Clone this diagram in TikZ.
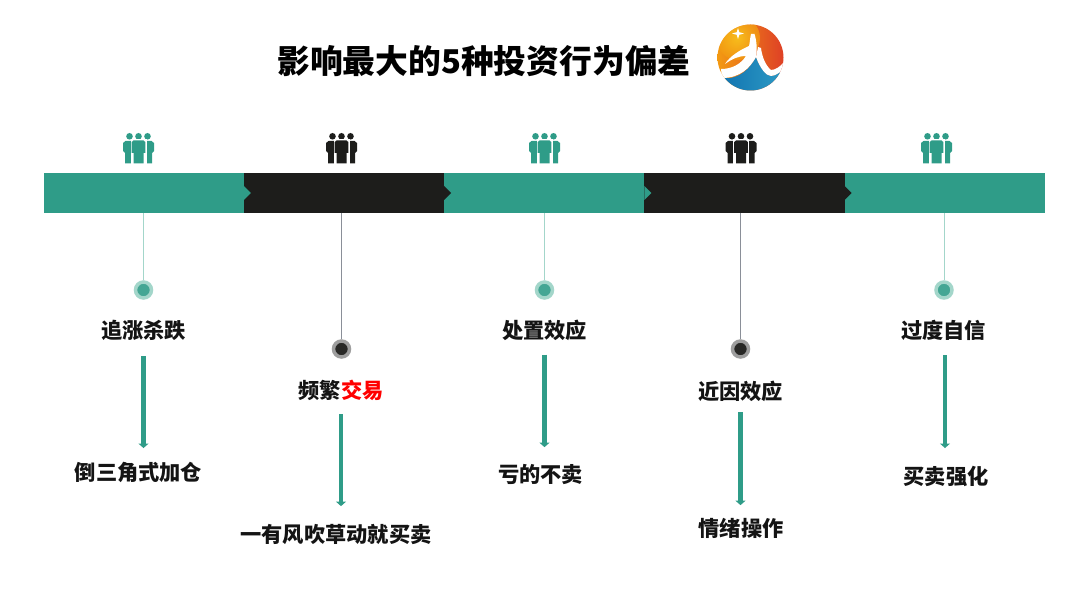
\documentclass[tikz,border=0pt]{standalone}
\usepackage{fontspec}
\setmainfont{Noto Sans CJK SC}
\usetikzlibrary{arrows.meta,calc,positioning}
\definecolor{barteal}{HTML}{2F9C88}
\definecolor{barblack}{HTML}{1D1D1B}
\definecolor{stemteal}{HTML}{A3D6CA}
\definecolor{stemblack}{HTML}{8A8F98}
\definecolor{hotred}{HTML}{FF0000}
\definecolor{logoblue}{HTML}{0F70AE}
\definecolor{logosky}{HTML}{2E9CC6}
\definecolor{logored}{HTML}{DE3F26}
\definecolor{logoamber}{HTML}{F39A12}
\definecolor{logosun}{HTML}{FBD21E}
\tikzset{
  barseg/.style={minimum width=200.3*0.025cm, minimum height=40*0.025cm, inner sep=0pt, outer sep=0pt},
  headline/.style={font=\fontsize{23.3}{26}\selectfont\bfseries, text=black, inner sep=0pt},
  tag/.style={font=\fontsize{15.1}{17}\selectfont\bfseries, text=black!92, inner sep=1pt},
  dotteal/.style={circle, fill=barteal!90, draw=stemteal, line width=3.5*0.025cm, minimum size=16*0.025cm, inner sep=0pt},
  dotblack/.style={circle, fill=barblack!95, draw=black!38, line width=3.5*0.025cm, minimum size=16*0.025cm, inner sep=0pt},
  stem/.style={line width=0.7pt},
  flow/.style={line width=3.4pt, barteal, -{Triangle[length=3.2pt,width=7pt]}},
  people/.pic={
    \fill (-9,-12.7) circle (3.3);
    \fill (0,-12.7) circle (3.3);
    \fill (9,-12.7) circle (3.3);
    % side figures
    \fill (-15.5,-6) -- (-13,-8) -- (-6.5,-8) -- (-6.5,14.5) -- (-13.5,14.5) -- (-13.5,4) -- (-15.5,2) -- cycle;
    \fill (15.5,-6) -- (13,-8) -- (6.5,-8) -- (6.5,14.5) -- (13.5,14.5) -- (13.5,4) -- (15.5,2) -- cycle;
    % middle figure
    \fill[white] (-8,-9.5) rectangle (8,15);
    \fill (-5,-8.5) -- (5,-8.5) -- (6.8,-7) -- (6.8,4) -- (5,4) -- (5,14.5) -- (-5,14.5) -- (-5,4) -- (-6.8,4) -- (-6.8,-7) -- cycle;
  }
}

\begin{document}
\begin{tikzpicture}[x=0.025cm,y=-0.025cm]
\useasboundingbox (0,0) rectangle (1080,597);

% --- Title ---
\node[headline, anchor=center] (heading) at (484,61) {影响最大的5种投资行为偏差};

% --- Logo ---
\begin{scope}
  \clip (750.5,57.5) circle (33);
  \shade[left color=logoamber, right color=logored] (717,24) rectangle (784,91);
  \shade[inner color=logosun, outer color=logosun!0!logoamber, opacity=0.75] (738,38) circle (22);
  \shade[left color=logoblue, right color=logosky] (716,60) -- (722,78) .. controls (740,80) and (750,68) .. (756,57) .. controls (760,68) and (766,76) .. (771,76) .. controls (776,76) and (782,71) .. (786,66) -- (786,92) -- (716,92) -- cycle;
  \fill[white] (751,34) -- (754.5,34) .. controls (756.5,40) and (757.5,50) .. (756,57) .. controls (750,68) and (740,78) .. (722,78)
    -- (721,69) .. controls (732,69) and (741,64) .. (746,56) .. controls (738,56) and (732,59) .. (725,64)
    .. controls (730,56) and (740,50) .. (749,46) .. controls (750,42) and (750,38) .. (751,34) -- cycle;
  \fill[white] (758,47) -- (761,48) .. controls (762,56) and (765,65) .. (771,70) .. controls (775,70) and (780,67) .. (784,62)
    -- (786,66) .. controls (782,71) and (776,76) .. (771,76) .. controls (766,76) and (760,68) .. (756,57) -- cycle;
\end{scope}
\fill[white] (738,28) -- (739.3,32.2) -- (744,33.5) -- (739.3,34.8) -- (738,39) -- (736.7,34.8) -- (732,33.5) -- (736.7,32.2) -- cycle;

% --- Band ---
\node[barseg, fill=barteal, anchor=west] (segA) at (43.5,193) {};
\node[barseg, fill=barblack, right=0pt of segA] (segB) {};
\node[barseg, fill=barteal, right=0pt of segB] (segC) {};
\node[barseg, fill=barblack, right=0pt of segC] (segD) {};
\node[barseg, fill=barteal, right=0pt of segD] (segE) {};
\foreach \seg/\col in {segA/barteal,segB/barblack,segC/barteal,segD/barblack}
  \fill[\col] ($(\seg.east)+(0,-7)$) -- ($(\seg.east)+(7,0)$) -- ($(\seg.east)+(0,7)$) -- cycle;

% --- Icons ---
\pic[barteal] at (138.5,149) {people};
\pic[barblack] at (341.5,149) {people};
\pic[barteal] at (544.5,149) {people};
\pic[barblack] at (741,149) {people};
\pic[barteal] at (936.5,149) {people};

% --- Markers ---
\node[dotteal] (dotA) at (143.5,290) {};
\node[dotblack] (dotB) at (341.5,349) {};
\node[dotteal] (dotC) at (544.5,290) {};
\node[dotblack] (dotD) at (740.5,349) {};
\node[dotteal] (dotE) at (944,290) {};
\draw[stem, stemteal] (segA.south -| dotA) -- (dotA);
\draw[stem, stemblack] (segB.south -| dotB) -- (dotB);
\draw[stem, stemteal] (segC.south -| dotC) -- (dotC);
\draw[stem, stemblack] (segD.south -| dotD) -- (dotD);
\draw[stem, stemteal] (segE.south -| dotE) -- (dotE);

% --- Labels ---
\node[tag] (chase) at (143.5,330.5) {追涨杀跌};
\node[tag] (trade) at (341,390) {频繁\textcolor{hotred}{交易}};
\node[tag] (dispose) at (544.5,330.5) {处置效应};
\node[tag] (recent) at (740.5,391) {近因效应};
\node[tag] (confid) at (943.5,330.5) {过度自信};
\node[tag] (pyramid) at (138.5,472) {倒三角式加仓};
\node[tag] (windy) at (336,534) {一有风吹草动就买卖};
\node[tag] (nosell) at (540.5,474) {亏的不卖};
\node[tag] (mood) at (741,528) {情绪操作};
\node[tag] (reinf) at (946,476) {买卖强化};

% --- Arrows ---
\draw[flow, shorten <=14*0.025cm, shorten >=12*0.025cm] (chase.south) -- (chase.south |- pyramid.north);
\draw[flow, shorten <=12*0.025cm, shorten >=16*0.025cm] (trade.south) -- (trade.south |- windy.north);
\draw[flow, shorten <=12*0.025cm, shorten >=15*0.025cm] (dispose.south) -- (dispose.south |- nosell.north);
\draw[flow, shorten <=9*0.025cm, shorten >=11*0.025cm] (recent.south) -- (recent.south |- mood.north);
\draw[flow, shorten <=13*0.025cm, shorten >=16*0.025cm] ([xshift=1.5*0.025cm]confid.south) -- ([xshift=1.5*0.025cm]confid.south |- reinf.north);

\end{tikzpicture}
\end{document}
